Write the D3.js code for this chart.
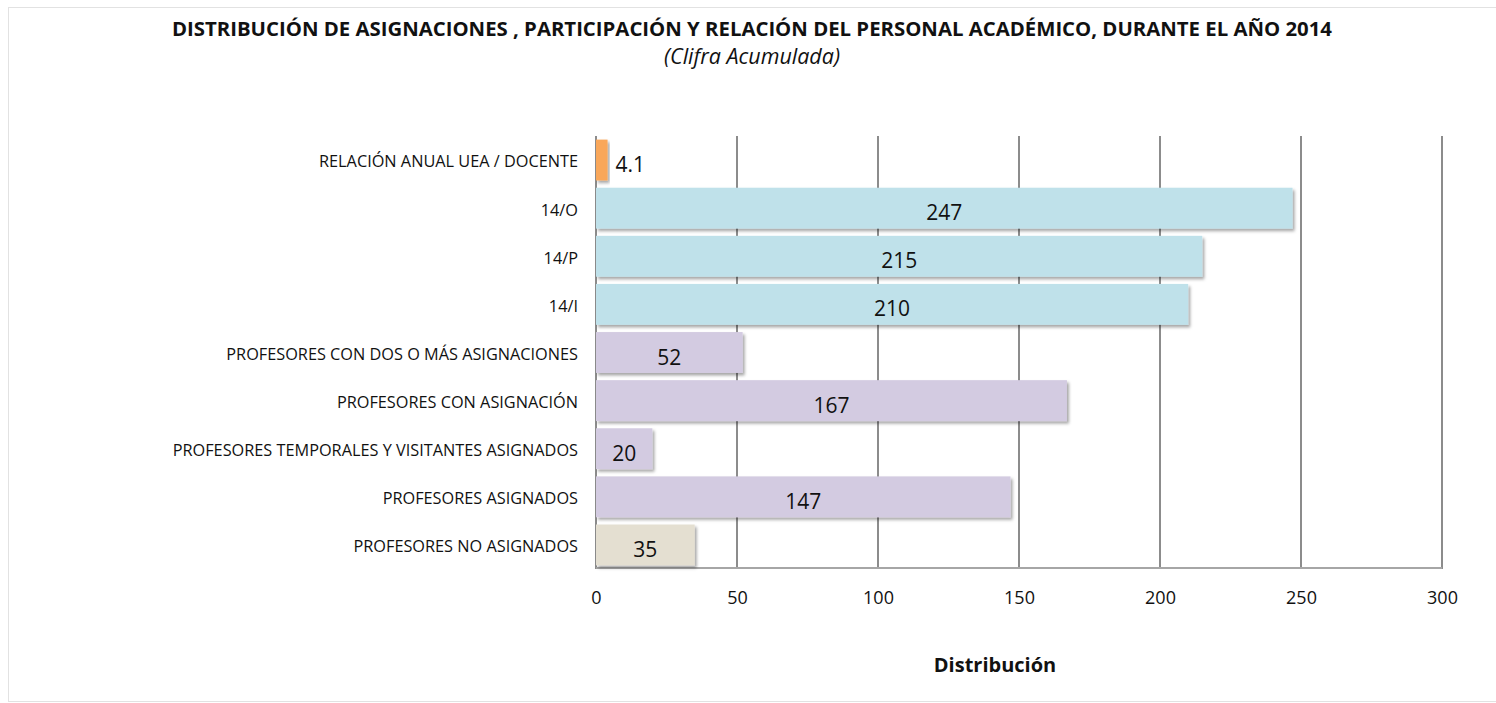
<!DOCTYPE html>
<html><head><meta charset="utf-8">
<script src="https://cdn.jsdelivr.net/npm/d3@7"></script>
<style>body{margin:0;background:#fff;font-family:"Open Sans",sans-serif;}</style>
</head><body>
<svg id="c" width="1496" height="703"></svg>
<script>
const categories = ["RELACIÓN ANUAL UEA / DOCENTE","14/O","14/P","14/I","PROFESORES CON DOS O MÁS ASIGNACIONES","PROFESORES CON ASIGNACIÓN","PROFESORES TEMPORALES Y VISITANTES ASIGNADOS","PROFESORES ASIGNADOS","PROFESORES NO ASIGNADOS"];
const values = [4.1,247,215,210,52,167,20,147,35];
const valueLabels = ["4.1","247","215","210","52","167","20","147","35"];
const groups = ["ratio","term","term","term","prof","prof","prof","prof","none"];
const groupColors = {ratio:"#F9A75A",term:"#BFE1EA",prof:"#D3CBE1",none:"#E4DFD1"};
const xTicks = [0,50,100,150,200,250,300];
const title = "DISTRIBUCIÓN DE ASIGNACIONES , PARTICIPACIÓN Y RELACIÓN DEL PERSONAL ACADÉMICO, DURANTE EL AÑO 2014";
const subtitle = "(Clifra Acumulada)";
const xTitle = "Distribución";

const svg = d3.select("#c");
const x = d3.scaleLinear().domain([0,300]).range([596,1442]);
const y = d3.scaleBand().domain(categories).range([136,569]).paddingInner(0.15).paddingOuter(0.075);

// frame
svg.append("rect").attr("x",8.5).attr("y",7.5).attr("width",1500).attr("height",694).attr("fill","none").attr("stroke","#e2e2e2").attr("stroke-width",1);

const defs = svg.append("defs");
const f = defs.append("filter").attr("id","sh").attr("x","-10%").attr("y","-20%").attr("width","130%").attr("height","160%");
f.append("feDropShadow").attr("dx",2).attr("dy",2.5).attr("stdDeviation",1.6).attr("flood-color","#000").attr("flood-opacity",0.35);

// gridlines
svg.append("g").selectAll("line").data(xTicks).join("line")
  .attr("x1",d=>x(d)).attr("x2",d=>x(d)).attr("y1",136).attr("y2",569)
  .attr("stroke","#8c8c8c").attr("stroke-width",2);
svg.append("line").attr("x1",x(0)).attr("x2",x(300)).attr("y1",568).attr("y2",568).attr("stroke","#a6a6a6").attr("stroke-width",2);

// bars
svg.append("g").selectAll("rect").data(categories).join("rect")
  .attr("x",x(0)).attr("y",d=>y(d)).attr("width",(d,i)=>x(values[i])-x(0)).attr("height",y.bandwidth())
  .attr("fill",(d,i)=>groupColors[groups[i]]).attr("filter","url(#sh)");

// value labels
svg.append("g").selectAll("text").data(categories).join("text")
  .attr("x",(d,i)=> values[i] < 10 ? x(values[i])+8 : (x(0)+x(values[i]))/2)
  .attr("y",d=>y(d)+y.bandwidth()/2+12)
  .attr("text-anchor",(d,i)=> values[i] < 10 ? "start" : "middle")
  .attr("font-size",21).attr("fill","#111").text((d,i)=>valueLabels[i]);

// category labels
const yAxis = d3.axisLeft(y).tickSize(0).tickPadding(18);
const ga = svg.append("g").attr("transform","translate(596,0)").call(yAxis);
ga.select(".domain").remove();
ga.selectAll("text").attr("font-size",16.3).attr("font-family","Open Sans").attr("fill","#111").attr("dy","0.45em");

// x axis
const xAxis = d3.axisBottom(x).tickValues(xTicks).tickSize(0).tickPadding(22);
const gx = svg.append("g").attr("transform","translate(0,569)").call(xAxis);
gx.select(".domain").remove();
gx.selectAll("text").attr("font-size",18).attr("font-family","Open Sans").attr("fill","#111");

svg.append("text").attr("x",995).attr("y",672).attr("text-anchor","middle").attr("font-weight","bold").attr("font-size",20).attr("fill","#111").text(xTitle);
svg.append("text").attr("x",752).attr("y",36).attr("text-anchor","middle").attr("font-weight","bold").attr("font-size",20).attr("textLength",1160).attr("lengthAdjust","spacingAndGlyphs").attr("fill","#111").text(title);
svg.append("text").attr("x",752).attr("y",64).attr("text-anchor","middle").attr("font-style","italic").attr("font-size",21.5).attr("fill","#111").text(subtitle);
</script>
</body></html>
